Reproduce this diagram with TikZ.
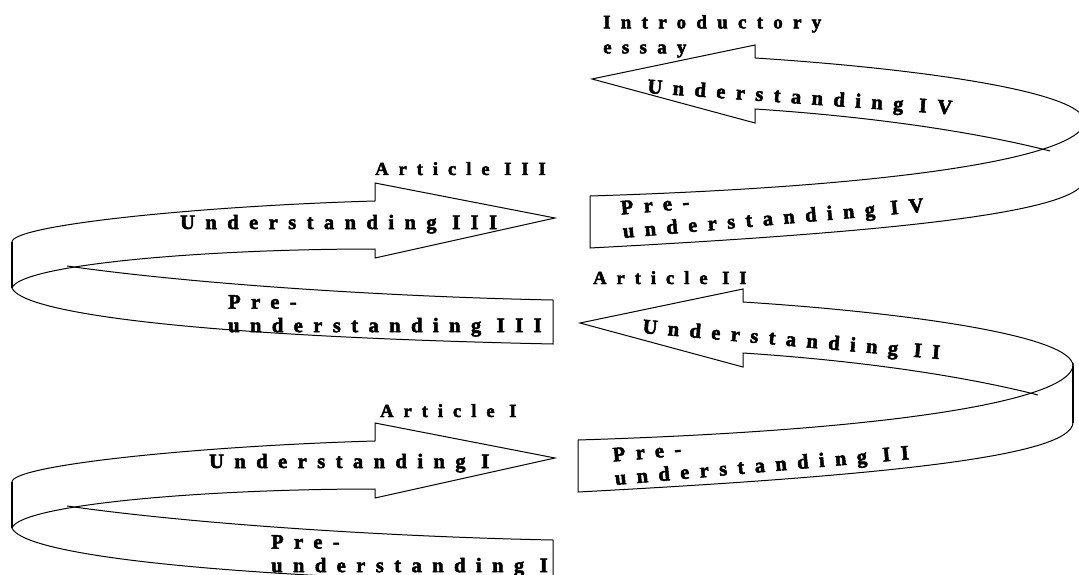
\documentclass[tikz,border=0pt]{standalone}
\usepackage{fontspec}
\setmainfont{Liberation Serif}
\newfontfamily\spacedserif[LetterSpace=51, FakeBold=2.5]{Liberation Serif Bold}
\newfontfamily\spacedhead[LetterSpace=54, FakeBold=2.5]{Liberation Serif Bold}
\usepackage{tikz}

\begin{document}
\begin{tikzpicture}[
			x=1pt, y=-1pt,
			band/.style={draw, line width=1pt, line join=miter},
			turnedge/.style={line width=1.6pt},
			ribbontext/.style={font=\spacedserif\fontsize{20.5}{23.5}\selectfont, inner sep=0pt, align=left},
			heading/.style={font=\spacedhead\fontsize{18.5}{25}\selectfont, inner sep=0pt, align=left}
		]
		\useasboundingbox (0,0) rectangle (1079,575);
		\clip (0,0) rectangle (1079,575);

		% turns on the left (I and III)
		\foreach \dy in {0,-240}{
			\begin{scope}[shift={(0,\dy)}]
				\draw[band] (67,506) .. controls (200,525) and (400,537) .. (553,540) -- (553,584) .. controls (180,576) and (22,552) .. (12,528);
				\draw[band] (12,482) .. controls (12,465) and (200,446) .. (375,441) -- (375,423) -- (555,458) -- (375,498) -- (375,489) .. controls (200,489) and (20,505) .. (12,528);
				\draw[turnedge] (12,482) -- (12,528);
			\end{scope}
		}

		% turns on the right (II and IV)
		\foreach \sx/\sy in {0/0,12/-244}{
			\begin{scope}[shift={(\sx,\sy)}]
				\draw[band] (578,440) .. controls (900,430) and (1068,400) .. (1073,366) -- (1073,423) .. controls (1070,455) and (900,475) .. (578,492) -- cycle;
				\draw[band] (1073,366) .. controls (1073,335) and (900,312) .. (743,302) -- (743,289) -- (580,323) -- (743,367) -- (743,353) .. controls (880,362) and (980,380) .. (1038,395);
				\draw[turnedge] (1073,366) -- (1073,423);
			\end{scope}
		}

		\node[heading, anchor=base west] (art1) at (380,417) {Article I};
		\node[ribbontext, anchor=base west] (und1) at (209,468) {Understanding I};
		\node[ribbontext, anchor=north west] (pre1) at (271,535) {Pre-\\understanding I};

		\node[heading, anchor=base west] (art2) at (593,284) {Article II};
		\node[ribbontext, anchor=base west, rotate=-5] (und2) at (642,333) {Understanding II};
		\node[ribbontext, anchor=north west, rotate=5] (pre2) at (612,448) {Pre-\\understanding II};

		\node[heading, anchor=base west] (art3) at (375,175) {Article III};
		\node[ribbontext, anchor=base west] (und3) at (180,229) {Understanding III};
		\node[ribbontext, anchor=north west] (pre3) at (228,295) {Pre-\\understanding III};

		\node[heading, anchor=north west, font=\spacedhead\fontsize{19}{25}\selectfont] (intro) at (603,15) {Introductory\\essay};
		\node[ribbontext, anchor=base west, rotate=-4] (und4) at (647,93) {Understanding IV};
		\node[ribbontext, anchor=north west, rotate=5] (pre4) at (620,201) {Pre-\\understanding IV};
\end{tikzpicture}
\end{document}
